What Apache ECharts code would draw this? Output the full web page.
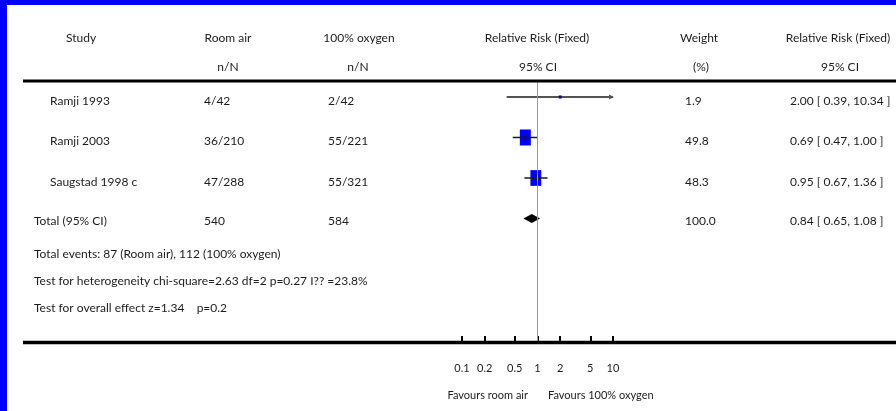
<!DOCTYPE html>
<html>
<head>
<meta charset="utf-8">
<script src="https://cdn.jsdelivr.net/npm/echarts@6/dist/echarts.min.js"></script>
<style>
  html, body { margin: 0; padding: 0; background: #fff; }
  #chart { width: 896px; height: 411px; }
</style>
</head>
<body>
<div id="chart"></div>
<script>
// Trial data: oxygen vs room air resuscitation
const studies   = ['Ramji 1993', 'Ramji 2003', 'Saugstad 1998 c'];
const roomAir   = ['4/42', '36/210', '47/288'];
const oxygen    = ['2/42', '55/221', '55/321'];
const weights   = [1.9, 49.8, 48.3];
const rr        = [2.00, 0.69, 0.95];
const ciLow     = [0.39, 0.47, 0.67];
const ciHigh    = [10.34, 1.00, 1.36];

const totalLabel   = 'Total (95% CI)';
const totalRoomAir = '540';
const totalOxygen  = '584';
const totalWeight  = 100.0;
const totalRR      = 0.84;
const totalLow     = 0.65;
const totalHigh    = 1.08;

const tickValues = [0.1, 0.2, 0.5, 1, 2, 5, 10];
const headers1 = ['Study', 'Room air', '100% oxygen', 'Relative Risk (Fixed)', 'Weight', 'Relative Risk (Fixed)'];
const headers2 = ['n/N', 'n/N', '95% CI', '(%)', '95% CI'];
const footnotes = [
  'Total events: 87 (Room air), 112 (100% oxygen)',
  'Test for heterogeneity chi-square=2.63 df=2 p=0.27 I?? =23.8%',
  'Test for overall effect z=1.34    p=0.2'
];
const favourLeft  = 'Favours room air';
const favourRight = 'Favours 100% oxygen';

const X_MIN = 0.1, X_MAX = 10;
const FONT = 'Lato';
const TXT = '#1c1c1c';

const chart = echarts.init(document.getElementById('chart'), null, { renderer: 'canvas' });

const studyData = studies.map((s, i) => [rr[i], ciLow[i], ciHigh[i], i, weights[i]]);
const totalRow = studies.length;
const totalData = [[totalRR, totalLow, totalHigh, totalRow]];

function renderStudy(params, api) {
  const row = api.value(3);
  const c = api.coord([api.value(0), row]);
  const l = api.coord([Math.max(api.value(1), X_MIN), row]);
  const clipped = api.value(2) > X_MAX;
  const h = api.coord([Math.min(api.value(2), X_MAX), row]);
  const s = Math.sqrt(api.value(4) / 49.8);
  const w = Math.max(3, 11 * s), ht = Math.max(3, 16 * s);
  const children = [
    { type: 'rect', shape: { x: c[0] - w / 2, y: c[1] - ht / 2, width: w, height: ht },
      style: { fill: '#0000ff' } },
    { type: 'line', shape: { x1: l[0], y1: c[1], x2: h[0], y2: c[1] },
      style: { stroke: '#1a1a1a', lineWidth: 1.5 } }
  ];
  if (ht > 6) {
    children.push({ type: 'line', shape: { x1: c[0], y1: c[1] - 4, x2: c[0], y2: c[1] + 4 },
      style: { stroke: '#1a1a1a', lineWidth: 1.5 } });
  }
  if (clipped) {
    children.push({ type: 'polygon',
      shape: { points: [[h[0] + 1, c[1]], [h[0] - 4, c[1] - 2.5], [h[0] - 4, c[1] + 2.5]] },
      style: { fill: '#555' } });
  }
  return { type: 'group', children };
}

function renderDiamond(params, api) {
  const row = api.value(3);
  const c = api.coord([api.value(0), row]);
  const l = api.coord([api.value(1), row]);
  const h = api.coord([api.value(2), row]);
  return {
    type: 'polygon',
    shape: { points: [[l[0], c[1]], [c[0], c[1] - 4.5], [h[0], c[1]], [c[0], c[1] + 4.5]] },
    style: { fill: '#000' }
  };
}

chart.setOption({
  animation: false,
  grid: { left: 462, right: 283, top: 82, bottom: 68, containLabel: false },
  xAxis: {
    type: 'log', logBase: 10, min: X_MIN, max: X_MAX, position: 'bottom',
    axisLine: { show: false, onZero: false },
    splitLine: { show: false },
    axisTick: { show: true, inside: true, length: 7, customValues: tickValues,
      lineStyle: { color: '#000', width: 2 } },
    axisLabel: { show: true, customValues: tickValues, margin: 20,
      fontFamily: FONT, fontSize: 11, color: TXT, formatter: v => String(v) }
  },
  yAxis: { type: 'value', inverse: true, min: -0.37, max: 6.074, show: false },
  series: [
    { type: 'custom', renderItem: renderStudy, data: studyData, encode: { x: [0, 1, 2], y: 3 }, z: 3 },
    { type: 'custom', renderItem: renderDiamond, data: totalData, encode: { x: [0, 1, 2], y: 3 }, z: 3 },
    { type: 'line', data: [], z: 1,
      markLine: { silent: true, symbol: 'none', label: { show: false },
        lineStyle: { color: '#9a9a9a', type: 'solid', width: 1 },
        data: [{ xAxis: 1 }] } }
  ]
});

function rowY(i) { return chart.convertToPixel({ yAxisIndex: 0 }, i); }
function txt(x, y, t, align) {
  return { type: 'text', x: x, y: y, z: 10,
    style: { text: t, fill: TXT, font: '12px ' + FONT, align: align || 'left', verticalAlign: 'middle' } };
}

const g = [];
// blue frame edges
g.push({ type: 'rect', shape: { x: 0, y: 0, width: 896, height: 5 }, style: { fill: '#0000ff' }, z: 20 });
g.push({ type: 'rect', shape: { x: 0, y: 0, width: 7, height: 411 }, style: { fill: '#0000ff' }, z: 20 });
// table rules
g.push({ type: 'line', shape: { x1: 23, y1: 81, x2: 896, y2: 81 }, style: { stroke: '#000', lineWidth: 3 }, z: 5 });
g.push({ type: 'line', shape: { x1: 23, y1: 342.5, x2: 896, y2: 342.5 }, style: { stroke: '#000', lineWidth: 3.5 }, z: 5 });

// headers
const hx1 = [[66, 'left'], [228, 'center'], [359, 'center'], [537, 'center'], [699, 'center'], [838, 'center']];
headers1.forEach((h, i) => g.push(txt(hx1[i][0], 38, h, hx1[i][1])));
const hx2 = [228, 358, 538, 701, 840];
headers2.forEach((h, i) => g.push(txt(hx2[i], 67, h, 'center')));

// study rows
const OFF = 4;
studies.forEach((s, i) => {
  const y = rowY(i) + OFF;
  g.push(txt(50, y, s));
  g.push(txt(204, y, roomAir[i]));
  g.push(txt(328, y, oxygen[i]));
  g.push(txt(685, y, weights[i].toFixed(1)));
  g.push(txt(790, y, rr[i].toFixed(2) + ' [ ' + ciLow[i].toFixed(2) + ', ' + ciHigh[i].toFixed(2) + ' ]'));
});
// total row
const ty = rowY(totalRow) + 2.5;
g.push(txt(34, ty, totalLabel));
g.push(txt(204, ty, totalRoomAir));
g.push(txt(328, ty, totalOxygen));
g.push(txt(685, ty, totalWeight.toFixed(1)));
g.push(txt(790, ty, totalRR.toFixed(2) + ' [ ' + totalLow.toFixed(2) + ', ' + totalHigh.toFixed(2) + ' ]'));

// footnotes
[254, 281, 308].forEach((y, i) => g.push(txt(34, y, footnotes[i])));

// direction captions
g.push({ type: 'text', x: 528, y: 395, z: 10, style: { text: favourLeft, fill: TXT, font: '11px ' + FONT, align: 'right', verticalAlign: 'middle' } });
g.push({ type: 'text', x: 548, y: 395, z: 10, style: { text: favourRight, fill: TXT, font: '11px ' + FONT, align: 'left', verticalAlign: 'middle' } });

chart.setOption({ graphic: g });
</script>
</body>
</html>
